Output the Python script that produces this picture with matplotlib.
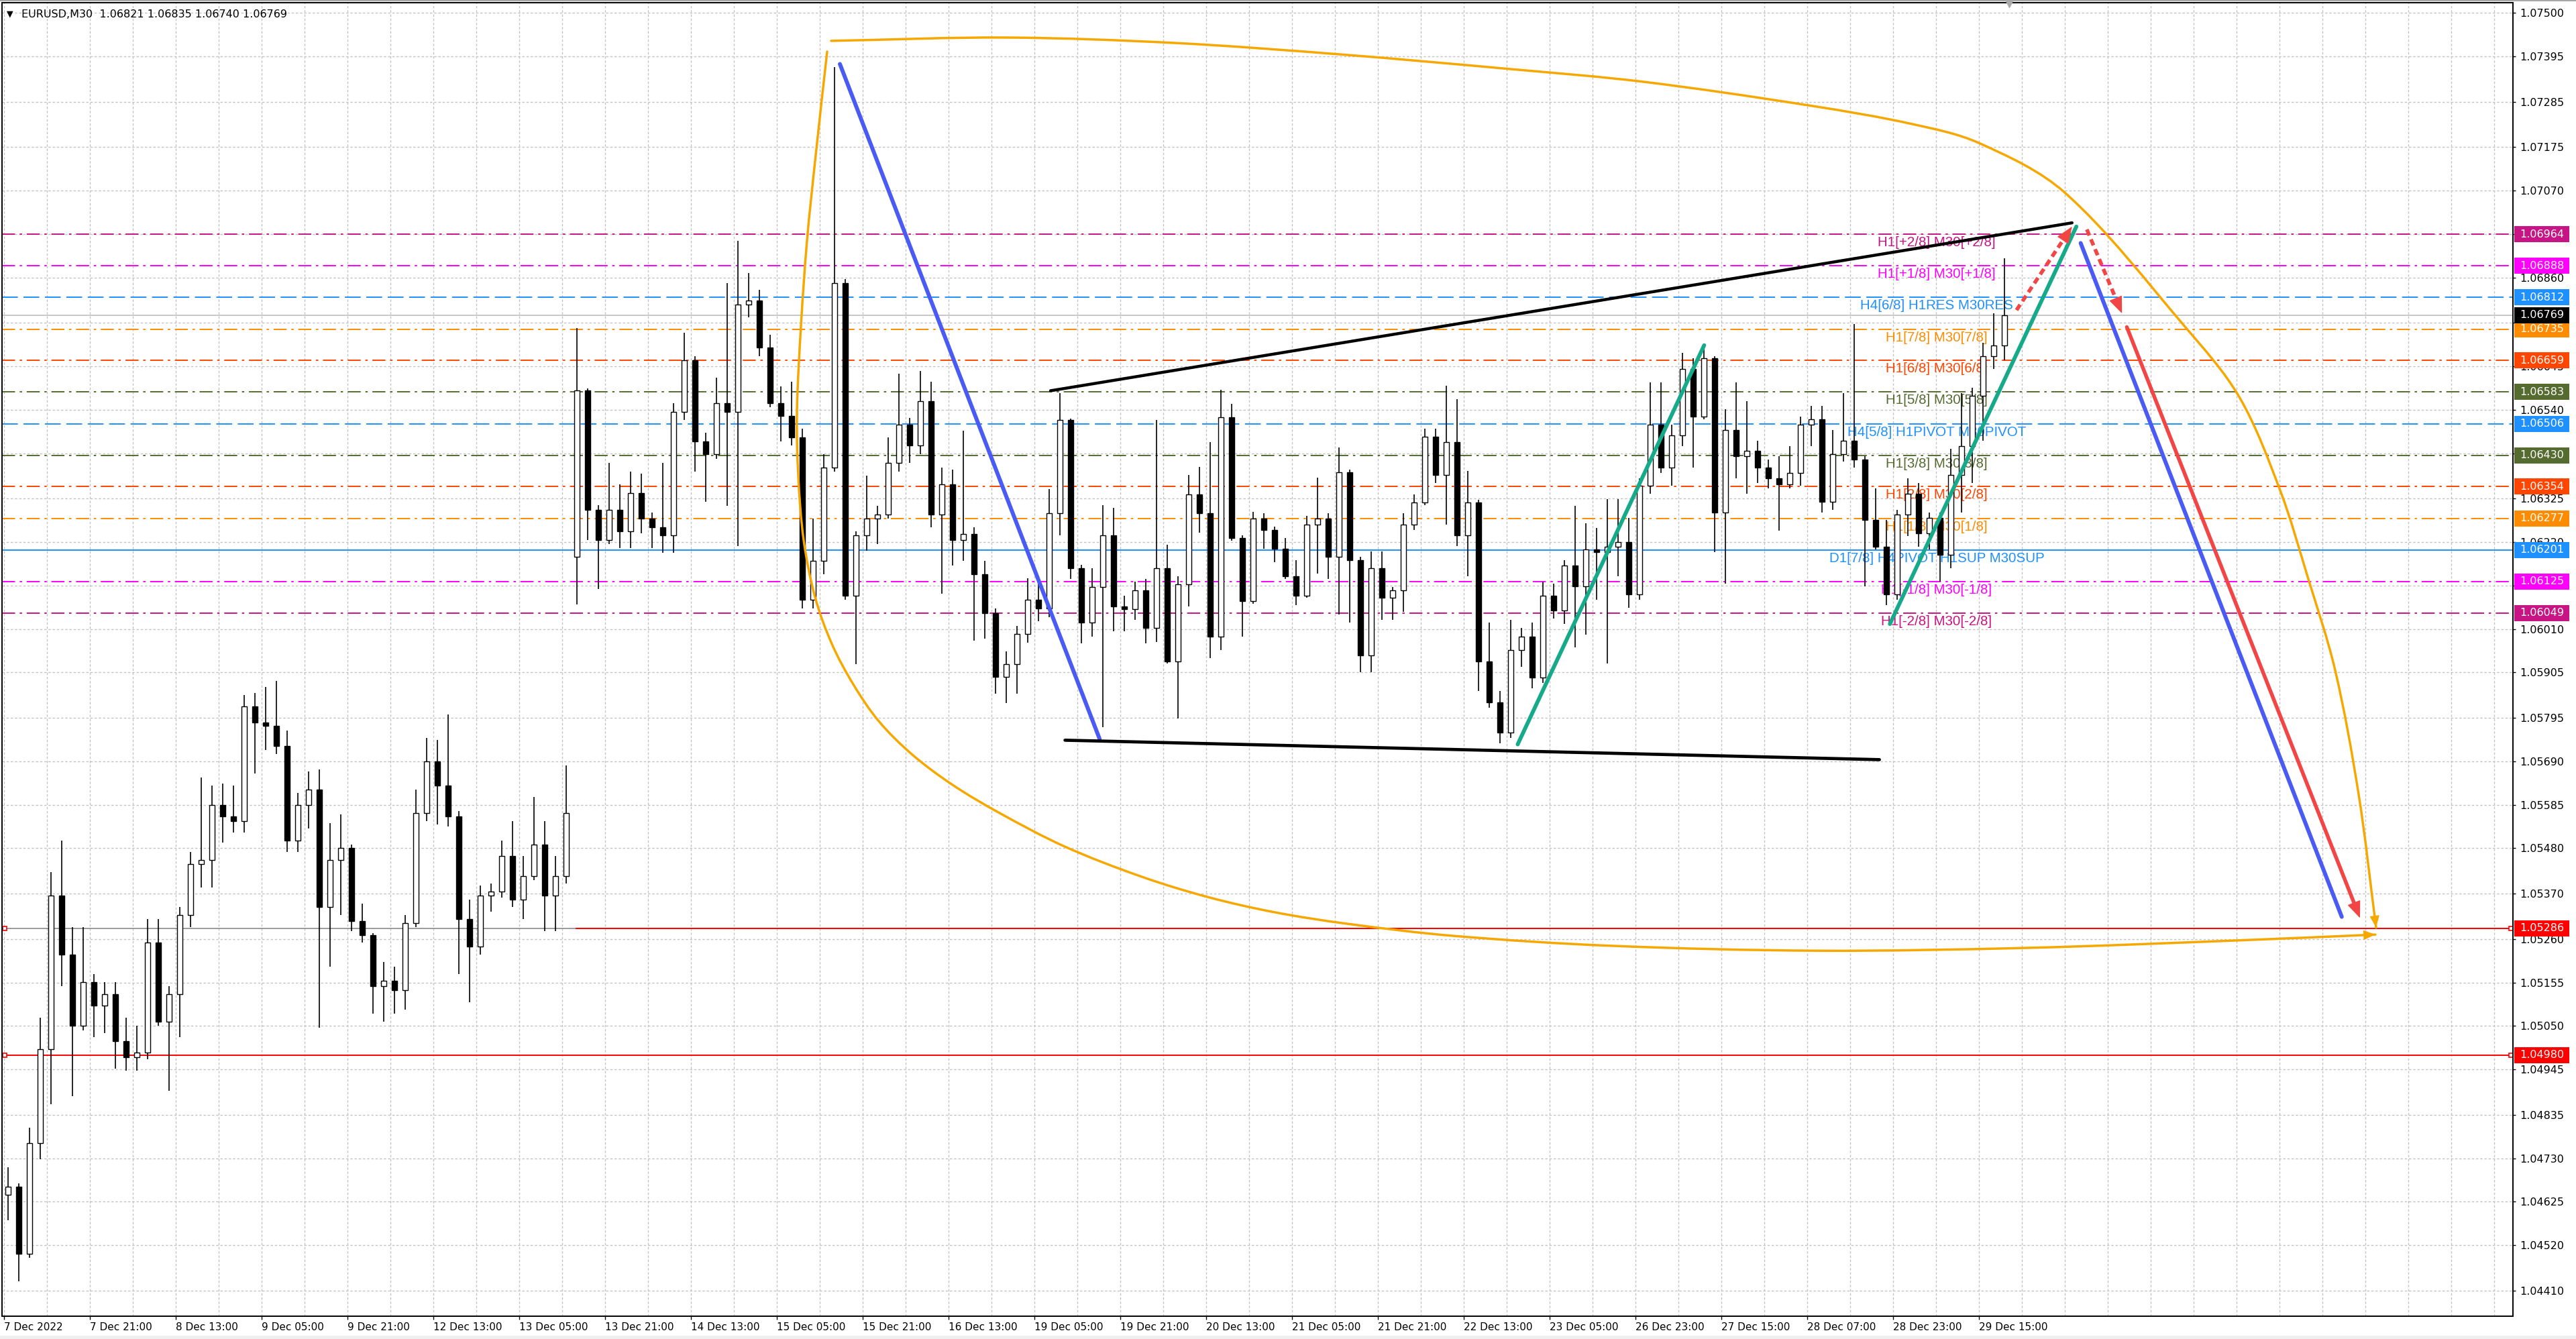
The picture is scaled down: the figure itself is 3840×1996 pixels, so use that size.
import numpy as np
import matplotlib
matplotlib.use("Agg")
import matplotlib.pyplot as plt
from matplotlib.path import Path
from matplotlib.patches import PathPatch, Rectangle, FancyArrowPatch, ArrowStyle
from matplotlib.transforms import blended_transform_factory

plt.rcParams['lines.scale_dashes'] = False

# ---------------------------------------------------------------- data
time_labels = ['7 Dec 2022', '7 Dec 21:00', '8 Dec 13:00', '9 Dec 05:00', '9 Dec 21:00',
               '12 Dec 13:00', '13 Dec 05:00', '13 Dec 21:00', '14 Dec 13:00', '15 Dec 05:00',
               '15 Dec 21:00', '16 Dec 13:00', '19 Dec 05:00', '19 Dec 21:00', '20 Dec 13:00',
               '21 Dec 05:00', '21 Dec 21:00', '22 Dec 13:00', '23 Dec 05:00', '26 Dec 23:00',
               '27 Dec 15:00', '28 Dec 07:00', '28 Dec 23:00', '29 Dec 15:00']
label_bars = [0, 32, 64, 96, 128, 160, 192, 224, 256, 288, 320, 352, 384, 416, 448,
              480, 512, 544, 576, 608, 640, 672, 704, 736]

# 2-hour candles (each spans 4 M30 bars)
opens = [1.04642, 1.04661, 1.04499, 1.04766, 1.04994, 1.05365, 1.05223, 1.05051, 1.05156, 1.05099,
         1.05127, 1.05013, 1.04975, 1.04985, 1.05251, 1.05061, 1.05127, 1.05318, 1.05442, 1.05451,
         1.05584, 1.05556, 1.05546, 1.05822, 1.05784, 1.05775, 1.05727, 1.05499, 1.05584, 1.05622,
         1.05337, 1.05451, 1.05480, 1.05303, 1.05270, 1.05146, 1.05160, 1.05137, 1.05299, 1.05565,
         1.05689, 1.05632, 1.05556, 1.05308, 1.05242, 1.05365, 1.05375, 1.05461, 1.05356, 1.05413,
         1.05489, 1.05365, 1.05413, 1.06184, 1.06587, 1.06298, 1.06225, 1.06298, 1.06246, 1.06339,
         1.06277, 1.06256, 1.06236, 1.06535, 1.06659, 1.06463, 1.06432, 1.06556, 1.06535, 1.06794,
         1.06804, 1.06691, 1.06556, 1.06525, 1.06473, 1.06080, 1.06174, 1.06401, 1.06846, 1.06091,
         1.06236, 1.06277, 1.06287, 1.06411, 1.06504, 1.06453, 1.06561, 1.06287, 1.06360, 1.06225,
         1.06240, 1.06143, 1.06049, 1.05894, 1.05925, 1.05998, 1.06080, 1.06060, 1.06290, 1.06515,
         1.06157, 1.06025, 1.06111, 1.06237, 1.06065, 1.06058, 1.06104, 1.06012, 1.06157, 1.05932,
         1.06118, 1.06336, 1.06290, 1.05992, 1.06522, 1.06230, 1.06078, 1.06277, 1.06250, 1.06204,
         1.06138, 1.06091, 1.06263, 1.06277, 1.06184, 1.06389, 1.06177, 1.05946, 1.06157, 1.06085,
         1.06104, 1.06263, 1.06316, 1.06475, 1.06383, 1.06462, 1.06237, 1.06316, 1.05932, 1.05833,
         1.05760, 1.05959, 1.05992, 1.05893, 1.06091, 1.06055, 1.06164, 1.06113, 1.06202, 1.06196,
         1.06209, 1.06220, 1.06093, 1.06356, 1.06504, 1.06401, 1.06478, 1.06638, 1.06523, 1.06664,
         1.06292, 1.06491, 1.06427, 1.06440, 1.06401, 1.06375, 1.06360, 1.06388, 1.06504, 1.06517,
         1.06318, 1.06433, 1.06465, 1.06420, 1.06273, 1.06209, 1.06093, 1.06286, 1.06337, 1.06241,
         1.06279, 1.06190, 1.06382, 1.06452, 1.06574, 1.06670, 1.06696]
highs = [1.04708, 1.04670, 1.04804, 1.05070, 1.05422, 1.05499, 1.05289, 1.05289, 1.05175, 1.05156,
         1.05156, 1.05070, 1.05051, 1.05308, 1.05308, 1.05146, 1.05337, 1.05470, 1.05651, 1.05632,
         1.05637, 1.05632, 1.05851, 1.05856, 1.05870, 1.05884, 1.05765, 1.05613, 1.05665, 1.05670,
         1.05541, 1.05561, 1.05489, 1.05346, 1.05275, 1.05204, 1.05194, 1.05318, 1.05622, 1.05746,
         1.05741, 1.05803, 1.05570, 1.05356, 1.05389, 1.05394, 1.05499, 1.05546, 1.05461, 1.05603,
         1.05546, 1.05461, 1.05680, 1.06737, 1.06592, 1.06310, 1.06411, 1.06360, 1.06391, 1.06385,
         1.06292, 1.06411, 1.06556, 1.06727, 1.06670, 1.06484, 1.06618, 1.06846, 1.06949, 1.06871,
         1.06830, 1.06722, 1.06597, 1.06608, 1.06494, 1.06277, 1.06432, 1.07368, 1.06856, 1.06246,
         1.06380, 1.06308, 1.06473, 1.06628, 1.06520, 1.06634, 1.06608, 1.06401, 1.06396, 1.06489,
         1.06256, 1.06174, 1.06060, 1.05956, 1.06018, 1.06132, 1.06122, 1.06349, 1.06581, 1.06518,
         1.06165, 1.06157, 1.06310, 1.06303, 1.06091, 1.06124, 1.06131, 1.06515, 1.06214, 1.06138,
         1.06382, 1.06402, 1.06462, 1.06588, 1.06555, 1.06237, 1.06293, 1.06290, 1.06257, 1.06230,
         1.06177, 1.06283, 1.06376, 1.06290, 1.06449, 1.06396, 1.06184, 1.06197, 1.06197, 1.06111,
         1.06290, 1.06336, 1.06495, 1.06495, 1.06598, 1.06565, 1.06392, 1.06323, 1.06025, 1.05860,
         1.06032, 1.06012, 1.06025, 1.06124, 1.06119, 1.06177, 1.06308, 1.06266, 1.06254, 1.06324,
         1.06324, 1.06279, 1.06375, 1.06606, 1.06606, 1.06504, 1.06677, 1.06664, 1.06696, 1.06670,
         1.06542, 1.06606, 1.06561, 1.06465, 1.06420, 1.06427, 1.06452, 1.06523, 1.06549, 1.06549,
         1.06491, 1.06581, 1.06747, 1.06427, 1.06350, 1.06273, 1.06298, 1.06375, 1.06363, 1.06292,
         1.06292, 1.06446, 1.06581, 1.06593, 1.06702, 1.06773, 1.06906]
lows = [1.04580, 1.04432, 1.04490, 1.04728, 1.04861, 1.05146, 1.04880, 1.05040, 1.05023, 1.05032,
        1.04947, 1.04942, 1.04942, 1.04970, 1.05051, 1.04894, 1.05023, 1.05289, 1.05384, 1.05384,
        1.05494, 1.05518, 1.05518, 1.05660, 1.05718, 1.05708, 1.05470, 1.05470, 1.05527, 1.05046,
        1.05194, 1.05318, 1.05280, 1.05251, 1.05080, 1.05061, 1.05080, 1.05089, 1.05289, 1.05546,
        1.05537, 1.05532, 1.05175, 1.05108, 1.05223, 1.05327, 1.05360, 1.05337, 1.05308, 1.05403,
        1.05280, 1.05280, 1.05394, 1.06070, 1.06225, 1.06106, 1.06215, 1.06205, 1.06205, 1.06241,
        1.06205, 1.06194, 1.06194, 1.06515, 1.06391, 1.06318, 1.06422, 1.06308, 1.06210, 1.06763,
        1.06670, 1.06546, 1.06463, 1.06453, 1.06060, 1.06060, 1.06143, 1.06390, 1.06080, 1.05925,
        1.06199, 1.06215, 1.06277, 1.06391, 1.06411, 1.06432, 1.06256, 1.06096, 1.06163, 1.06174,
        1.05982, 1.05987, 1.05853, 1.05831, 1.05853, 1.05977, 1.06029, 1.06038, 1.06237, 1.06131,
        1.05975, 1.05992, 1.05773, 1.06005, 1.06005, 1.06032, 1.05975, 1.05979, 1.05926, 1.05793,
        1.06065, 1.06243, 1.05939, 1.05959, 1.06224, 1.05992, 1.06071, 1.06204, 1.06171, 1.06131,
        1.06068, 1.06085, 1.06144, 1.06131, 1.06045, 1.06025, 1.05906, 1.05906, 1.06032, 1.06032,
        1.06051, 1.06250, 1.06310, 1.06363, 1.06263, 1.06210, 1.06138, 1.05860, 1.05820, 1.05734,
        1.05747, 1.05919, 1.05866, 1.05879, 1.06036, 1.06023, 1.05965, 1.05997, 1.06080, 1.05927,
        1.06138, 1.06061, 1.06080, 1.06337, 1.06388, 1.06356, 1.06452, 1.06401, 1.06517, 1.06196,
        1.06119, 1.06375, 1.06337, 1.06363, 1.06350, 1.06247, 1.06350, 1.06356, 1.06452, 1.06292,
        1.06298, 1.06414, 1.06401, 1.06113, 1.06202, 1.06068, 1.06080, 1.06234, 1.06209, 1.06202,
        1.06125, 1.06157, 1.06292, 1.06363, 1.06465, 1.06638, 1.06660]
closes = [1.04661, 1.04499, 1.04766, 1.04994, 1.05365, 1.05223, 1.05051, 1.05156, 1.05099, 1.05127,
          1.05013, 1.04975, 1.04985, 1.05251, 1.05061, 1.05127, 1.05318, 1.05442, 1.05451, 1.05584,
          1.05556, 1.05546, 1.05822, 1.05784, 1.05775, 1.05727, 1.05499, 1.05584, 1.05622, 1.05337,
          1.05451, 1.05480, 1.05303, 1.05270, 1.05146, 1.05160, 1.05137, 1.05299, 1.05565, 1.05689,
          1.05632, 1.05556, 1.05308, 1.05242, 1.05365, 1.05375, 1.05461, 1.05356, 1.05413, 1.05489,
          1.05365, 1.05413, 1.05565, 1.06587, 1.06298, 1.06225, 1.06298, 1.06246, 1.06339, 1.06277,
          1.06256, 1.06236, 1.06535, 1.06659, 1.06463, 1.06432, 1.06556, 1.06535, 1.06794, 1.06804,
          1.06691, 1.06556, 1.06525, 1.06473, 1.06080, 1.06174, 1.06401, 1.06846, 1.06091, 1.06236,
          1.06277, 1.06287, 1.06411, 1.06504, 1.06453, 1.06561, 1.06287, 1.06360, 1.06225, 1.06240,
          1.06143, 1.06049, 1.05894, 1.05925, 1.05998, 1.06080, 1.06060, 1.06290, 1.06515, 1.06157,
          1.06025, 1.06111, 1.06237, 1.06065, 1.06058, 1.06104, 1.06012, 1.06157, 1.05932, 1.06118,
          1.06336, 1.06290, 1.05992, 1.06522, 1.06230, 1.06078, 1.06277, 1.06250, 1.06204, 1.06138,
          1.06091, 1.06263, 1.06277, 1.06184, 1.06389, 1.06177, 1.05946, 1.06157, 1.06085, 1.06104,
          1.06263, 1.06316, 1.06475, 1.06383, 1.06462, 1.06237, 1.06316, 1.05932, 1.05833, 1.05760,
          1.05959, 1.05992, 1.05893, 1.06091, 1.06055, 1.06164, 1.06113, 1.06202, 1.06196, 1.06209,
          1.06220, 1.06093, 1.06356, 1.06504, 1.06401, 1.06478, 1.06638, 1.06523, 1.06664, 1.06292,
          1.06491, 1.06427, 1.06440, 1.06401, 1.06375, 1.06360, 1.06388, 1.06504, 1.06517, 1.06318,
          1.06433, 1.06465, 1.06420, 1.06273, 1.06209, 1.06093, 1.06286, 1.06337, 1.06241, 1.06279,
          1.06190, 1.06382, 1.06452, 1.06574, 1.06670, 1.06696, 1.06769]

price_ticks = [1.07500, 1.07395, 1.07285, 1.07175, 1.07070, 1.06965, 1.06860, 1.06750, 1.06645,
               1.06540, 1.06435, 1.06325, 1.06220, 1.06115, 1.06010, 1.05905, 1.05795, 1.05690,
               1.05585, 1.05480, 1.05370, 1.05260, 1.05155, 1.05050, 1.04945, 1.04835, 1.04730,
               1.04625, 1.04520, 1.04410]

level_prices = [1.06964, 1.06888, 1.06812, 1.06735, 1.06659, 1.06583, 1.06506,
                1.06430, 1.06354, 1.06277, 1.06201, 1.06125, 1.06049]
level_names = ['H1[+2/8] M30[+2/8]', 'H1[+1/8] M30[+1/8]', 'H4[6/8] H1RES M30RES',
               'H1[7/8] M30[7/8]', 'H1[6/8] M30[6/8]', 'H1[5/8] M30[5/8]',
               'H4[5/8] H1PIVOT M30PIVOT', 'H1[3/8] M30[3/8]', 'H1[2/8] M30[2/8]',
               'H1[1/8] M30[1/8]', 'D1[7/8] H4PIVOT H1SUP M30SUP', 'H1[-1/8] M30[-1/8]',
               'H1[-2/8] M30[-2/8]']
level_colors = ['#C71585', '#FF00FF', '#1E90FF', '#FF8C00', '#FF4500', '#556B2F', '#1E90FF',
                '#556B2F', '#FF4500', '#FF8C00', '#1E90FF', '#FF00FF', '#C71585']
level_kinds = ['dashdot', 'dashdot', 'dash', 'dashdot', 'dashdot', 'dashdot', 'dash',
               'dashdot', 'dashdot', 'dashdot', 'solid', 'dashdot', 'dashdot']

red_levels = [1.05286, 1.04980]
last_price = 1.06769
title_text = 'EURUSD,M30  1.06821 1.06835 1.06740 1.06769'

# drawing objects: (bar index, price) anchors
blue_down_1 = ([311.5, 408.3], [1.07376, 1.05744])
black_upper = ([390.0, 770.7], [1.06586, 1.06992])
black_lower = ([395.4, 698.9], [1.05741, 1.05694])
green_up_1 = ([564.1, 633.6], [1.05731, 1.06696])
green_up_2 = ([702.8, 772.3], [1.06022, 1.06983])
red_dash_up = ([750.0, 770.7], [1.06781, 1.06983])
red_dash_down = ([776.2, 789.3], [1.06976, 1.06773])
blue_down_2 = ([773.9, 871.2], [1.06943, 1.05314])
red_down = ([791.1, 878.0], [1.06740, 1.05311])
arc_top_x = [308.25, 373.5, 436.0, 498.5, 561.0, 611.0, 673.5, 711.0, 736.0, 768.0,
             812.5, 833.0, 848.25, 858.5, 868.75, 877.5, 884.0]
arc_top_y = [1.07432, 1.07440, 1.07427, 1.07399, 1.07364, 1.07333, 1.07275, 1.07231,
             1.07185, 1.07065, 1.06743, 1.06571, 1.06345, 1.06136, 1.05910, 1.05610, 1.05288]
arc_low_x = [306.75, 302.5, 299.25, 297.0, 295.5, 296.0, 298.0, 302.25, 308.5, 316.5,
             326.0, 338.5, 353.5, 371.0, 395.25, 423.5, 448.5, 473.5, 500.75, 540.0,
             598.5, 676.5, 754.75, 832.75, 883.75]
arc_low_y = [1.07406, 1.07156, 1.06949, 1.06743, 1.06535, 1.06379, 1.06225, 1.06087,
             1.05974, 1.05876, 1.05787, 1.05706, 1.05633, 1.05565, 1.05484, 1.05412,
             1.05362, 1.05325, 1.05297, 1.05268, 1.05244, 1.05232, 1.05239, 1.05257, 1.05271]

# ---------------------------------------------------------------- layout
W, H, DPI = 3840, 1996, 100
fig = plt.figure(figsize=(W / DPI, H / DPI), dpi=DPI)
fig.patch.set_facecolor('white')
L, R, T, B = 3, 3746, 4, 1962
ax = fig.add_axes([L / W, 1 - B / H, (R - L) / W, (B - T) / H])
ax.set_facecolor('white')
XMIN, XMAX = -0.75, 935.0
YMIN, YMAX = 1.043483, 1.075243
ax.set_xlim(XMIN, XMAX)
ax.set_ylim(YMIN, YMAX)
PX_PER_PRICE = (B - T) / (YMAX - YMIN)
PX_PER_BAR = (R - L) / (XMAX - XMIN)

for s in ax.spines.values():
    s.set_color('black')
    s.set_linewidth(1.4)

FONT = ['DejaVu Sans']
LBLFONT = ['Liberation Sans', 'DejaVu Sans']
GRID = '#C4C4C4'

# grid
for p in price_ticks:
    ax.axhline(p, color=GRID, lw=1.0, linestyle=(0, (2.5, 2.0)), zorder=0.5)
for b in range(0, 935, 16):
    ax.axvline(b, color=GRID, lw=1.0, linestyle=(0, (2.5, 2.0)), zorder=0.5)

# axes ticks
ax.yaxis.tick_right()
ax.set_yticks(price_ticks)
ax.set_yticklabels([f'{p:.5f}' for p in price_ticks], fontsize=11.5, family=FONT)
ax.tick_params(axis='y', direction='out', length=3, width=1, pad=4.5, colors='black')
ax.set_xticks(label_bars)
ax.set_xticklabels(time_labels, fontsize=11, family=FONT)
for lbl in ax.get_xticklabels():
    lbl.set_ha('left')
ax.tick_params(axis='x', direction='out', length=3.5, width=1, pad=3)

# level lines
styles = {'dashdot': (0, (14, 5, 2.5, 5)), 'dash': (0, (17, 6)), 'solid': '-'}
for p, name, c, k in zip(level_prices, level_names, level_colors, level_kinds):
    ax.axhline(p, color=c, lw=1.4, linestyle=styles[k], zorder=1.5)
    ax.text(720.25, p - 3 / PX_PER_PRICE, name, color=c, fontsize=14.8, family=LBLFONT,
            ha='center', va='top', zorder=2.5)
ax.axhline(last_price, color='#BDBDBD', lw=1.2, zorder=1.5)
ax.axhline(red_levels[0], color='#8A8A8A', lw=1.2, zorder=1.5)
ax.hlines(red_levels[0], 213, XMAX, color='#FF0000', lw=1.4, zorder=1.6)
ax.axhline(red_levels[1], color='#FF0000', lw=1.4, zorder=1.6)
for p in red_levels:
    ax.plot([0.3, 934.2], [p, p], ls='none', marker='s', ms=4.5, mfc='white', mec='#FF0000',
            mew=1.2, zorder=1.7, clip_on=False)

# candles
o = np.array(opens); c = np.array(closes)
h = np.maximum.reduce([np.array(highs), o, c])
lo = np.minimum.reduce([np.array(lows), o, c])
xs = 4 * np.arange(len(o)) + 1.5
ax.vlines(xs, lo, h, color='black', lw=1.2, zorder=3)
bottom = np.minimum(o, c)
height = np.maximum(np.abs(c - o), 0.00003)
up = c >= o
ax.bar(xs[up], height[up], bottom=bottom[up], width=2.2, facecolor='white',
       edgecolor='black', linewidth=1.0, zorder=4)
ax.bar(xs[~up], height[~up], bottom=bottom[~up], width=2.2, facecolor='black',
       edgecolor='black', linewidth=1.0, zorder=4)

# drawing helpers
def seg(obj, color, lw, z=6, **kw):
    ax.plot(obj[0], obj[1], color=color, lw=lw, solid_capstyle='round',
            dash_capstyle='butt', zorder=z, **kw)

def head(xa, ya, xb, yb, color, length, width, z=7, frac=0.02):
    sx = xb - (xb - xa) * frac
    sy = yb - (yb - ya) * frac
    st = ArrowStyle('-|>', head_length=length, head_width=width)
    ax.add_patch(FancyArrowPatch((sx, sy), (xb, yb), arrowstyle=st, mutation_scale=1,
                                 color=color, lw=1.0, shrinkA=0, shrinkB=0, zorder=z))

def smooth_path(xv, yv):
    # chord-length cubic Hermite through the anchors, computed in pixel-like units
    P = np.column_stack([np.asarray(xv) * PX_PER_BAR, np.asarray(yv) * PX_PER_PRICE])
    n = len(P)
    d = np.linalg.norm(np.diff(P, axis=0), axis=1)
    m = np.zeros_like(P)
    m[0] = (P[1] - P[0]) / d[0]
    m[-1] = (P[-1] - P[-2]) / d[-1]
    for i in range(1, n - 1):
        m[i] = (P[i + 1] - P[i - 1]) / (d[i - 1] + d[i])
    verts = [P[0]]
    codes = [Path.MOVETO]
    for i in range(n - 1):
        verts += [P[i] + m[i] * d[i] / 3.0, P[i + 1] - m[i + 1] * d[i] / 3.0, P[i + 1]]
        codes += [Path.CURVE4] * 3
    V = np.array(verts)
    V[:, 0] /= PX_PER_BAR
    V[:, 1] /= PX_PER_PRICE
    return Path(V, codes)

ORANGE = '#F6A800'
BLUE = '#4A5BF3'
GREEN = '#16A98A'
RED = '#F24646'

# orange arcs
for axs, ays in [(arc_top_x, arc_top_y), (arc_low_x, arc_low_y)]:
    ax.add_patch(PathPatch(smooth_path(axs, ays), facecolor='none', edgecolor=ORANGE, lw=2.5,
                           capstyle='round', zorder=5))
    head(axs[-2], ays[-2], axs[-1], ays[-1], ORANGE, 11, 4.5, z=5, frac=0.12)

# trend lines
seg(blue_down_1, BLUE, 4.3)
seg(blue_down_2, BLUE, 4.3)
seg(black_upper, 'black', 3.2)
seg(black_lower, 'black', 3.4)
seg(green_up_1, GREEN, 4.2)
seg(green_up_2, GREEN, 4.2)

# red arrows
def red_arrow(obj, dashed, cut):
    (x0, x1), (y0, y1) = obj
    xe = x0 + (x1 - x0) * cut
    ye = y0 + (y1 - y0) * cut
    if dashed:
        ax.plot([x0, xe], [y0, ye], color=RED, lw=4.0, linestyle=(0, (7, 4.5)),
                dash_capstyle='butt', zorder=7)
    else:
        ax.plot([x0, xe], [y0, ye], color=RED, lw=4.0, solid_capstyle='round', zorder=7)
    head(x0, y0, x1, y1, RED, 16, 6.5, z=7, frac=0.05)

red_arrow(red_dash_up, True, 0.86)
red_arrow(red_dash_down, True, 0.84)
red_arrow(red_down, False, 0.975)

# price badges
tb = blended_transform_factory(ax.transAxes, ax.transData)
AW = R - L
badges = list(zip(level_prices, level_colors)) + [(last_price, 'black'),
                                                  (red_levels[0], '#FF0000'),
                                                  (red_levels[1], '#FF0000')]
bh = 24 / PX_PER_PRICE
for p, col in badges:
    ax.add_patch(Rectangle(((3748 - L) / AW, p - bh / 2), 82 / AW, bh, transform=tb,
                           facecolor=col, edgecolor='none', clip_on=False, zorder=10))
    ax.text((3756 - L) / AW, p, f'{p:.5f}', transform=tb, color='white', fontsize=11.5,
            family=FONT, ha='left', va='center', clip_on=False, zorder=11)

# chart shift marker
ax.plot([747.25], [1.0], transform=blended_transform_factory(ax.transData, ax.transAxes),
        marker='v', ms=10, color='#ABABAB', clip_on=False, zorder=12)

# title
fig.text(10 / W, 1 - 21 / H, '\u25bc', fontsize=9, family=FONT, va='center', ha='left')
fig.text(32 / W, 1 - 21 / H, title_text, fontsize=11.5, family=FONT, va='center', ha='left')

# frame strips
fig.patches.append(Rectangle((0, 0), 1, 5 / H, transform=fig.transFigure,
                             facecolor='#EFEFEF', edgecolor='none', zorder=0))
fig.patches.append(Rectangle((0, 1 - 2 / H), 1, 2 / H, transform=fig.transFigure,
                             facecolor='#A8A8A8', edgecolor='none', zorder=0))

fig.savefig('out.png', dpi=DPI, facecolor='white')
